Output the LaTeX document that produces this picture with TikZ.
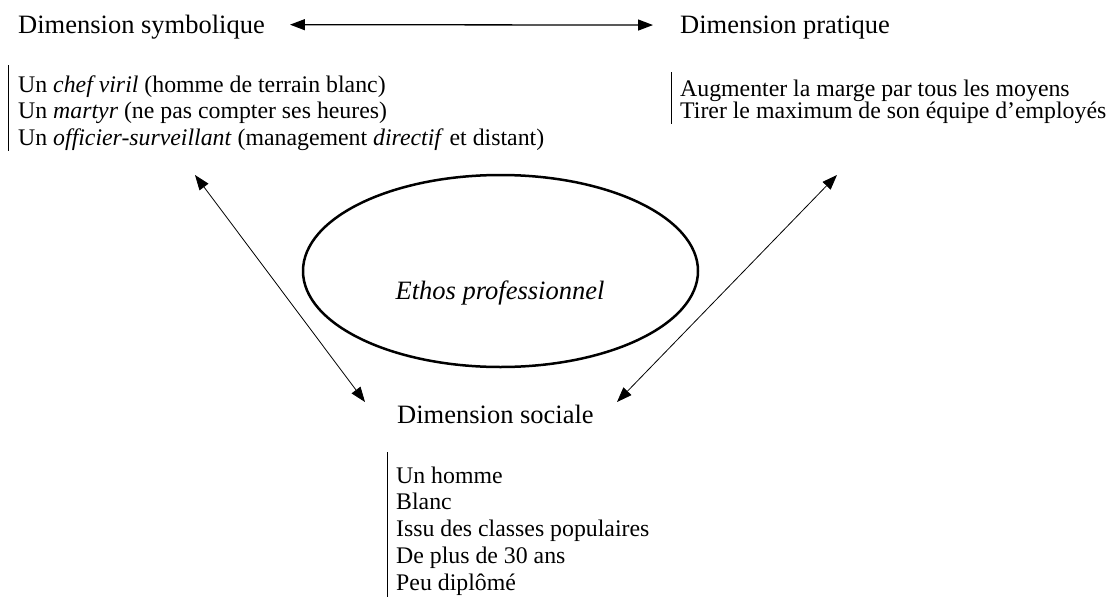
\documentclass[tikz,border=0pt]{standalone}
\usepackage{fontspec}
\setmainfont{Liberation Serif}
\usetikzlibrary{arrows.meta,shapes.geometric}
\begin{document}
\begin{tikzpicture}[x=1pt,y=-1pt,
  head/.style={font=\fontsize{26.5}{30}\selectfont, inner sep=0pt, anchor=base west},
  item/.style={font=\fontsize{23.8}{26.75}\selectfont, inner sep=0pt, anchor=base west},
  bar/.style={line width=0.9pt},
  link/.style={line width=0.8pt, {Triangle[length=15pt,width=11pt]}-{Triangle[length=15pt,width=11pt]}},
  topline/.style={link, line width=1.3pt},
  ethos/.style={draw, ellipse, line width=2.5pt, minimum width=395pt, minimum height=192pt, inner sep=0pt}
]
\useasboundingbox (0,0) rectangle (1110,597);
\fill[white] (0,0) rectangle (1110,597);

% headers
\node[head] (sym) at (18,33) {Dimension symbolique};
\node[head] (pra) at (680,33) {Dimension pratique};
\node[head] (soc) at (397,423) {Dimension sociale};

% symbolic list
\node[item] (s1) at (18,92) {Un \textit{chef viril} (homme de terrain blanc)};
\node[item] (s2) at (18,118.75) {Un \textit{martyr} (ne pas compter ses heures)};
\node[item] (s3) at (18,145.5) {Un \textit{officier-surveillant} (management \textit{directif} et distant)};
\draw[bar] ([xshift=-10pt,yshift=27pt]s1.base west) -- ([xshift=-10pt,yshift=-5pt]s3.base west);

% practical list
\node[item] (p1) at (680,96) {Augmenter la marge par tous les moyens};
\node[item] (p2) at (680,118.5) {Tirer le maximum de son équipe d’employés};
\draw[bar] ([xshift=-9pt,yshift=24pt]p1.base west) -- ([xshift=-9pt,yshift=-5.5pt]p2.base west);

% social list
\node[item] (q1) at (396,483) {Un homme};
\node[item] (q2) at (396,509.75) {Blanc};
\node[item] (q3) at (396,536.5) {Issu des classes populaires};
\node[item] (q4) at (396,563.25) {De plus de 30 ans};
\node[item] (q5) at (396,590) {Peu diplômé};
\draw[bar] ([xshift=-9pt,yshift=31pt]q1.base west) -- ([xshift=-9pt,yshift=-7pt]q5.base west);

% ellipse
\node[ethos] (eth) at (500.5,271) {};
\node[font=\fontsize{26.5}{30}\selectfont\itshape, inner sep=0pt, anchor=base] (ethl) at (500,299) {Ethos professionnel};

% connectors
\coordinate (a1) at (195,175);
\coordinate (a2) at (365,402);
\coordinate (b1) at (837,175);
\coordinate (b2) at (617,402);
\draw[link] (a1) -- (a2);
\draw[link] (b1) -- (b2);
\draw[topline] ([xshift=25pt,yshift=2pt]sym.east) -- ([xshift=-27pt,yshift=2pt]pra.west);
\end{tikzpicture}
\end{document}
